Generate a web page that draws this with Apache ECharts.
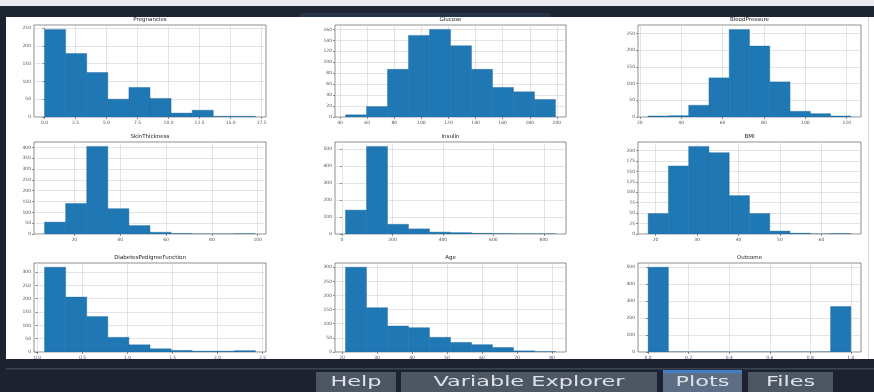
<!DOCTYPE html>
<html>
<head>
<meta charset="utf-8">
<script src="https://cdn.jsdelivr.net/npm/echarts@6/dist/echarts.min.js"></script>
<style>
html,body{margin:0;padding:0;background:#1c2230;}
#chart{width:874px;height:392px;}
</style>
</head>
<body>
<div id="chart"></div>
<script>
// ---- data (histogram counts, 10 bins each) ----
const titles = ['Pregnancies','Glucose','BloodPressure','SkinThickness','Insulin','BMI','DiabetesPedigreeFunction','Age','Outcome'];
const ranges = [[0,17],[44,199],[24,122],[7,99],[14,846],[18.2,67.1],[0.078,2.42],[21,81],[0,1]];
const pregnancies   = [246,178,125,50,83,52,11,19,2,2];
const glucose       = [4,19,87,149,160,130,87,54,46,32];
const bloodPressure = [3,4,35,117,262,212,105,17,10,3];
const skinThickness = [55,141,405,117,39,8,2,0,0,1];
const insulin       = [140,514,57,30,11,8,4,2,1,1];
const bmi           = [49,163,210,195,92,49,7,2,0,1];
const dpf           = [318,206,133,55,27,12,6,3,3,5];
const age           = [300,157,92,86,52,34,26,16,4,1];
const outcome       = [500,0,0,0,0,0,0,0,0,268];
const counts = [pregnancies,glucose,bloodPressure,skinThickness,insulin,bmi,dpf,age,outcome];

const xTicks = [
  [0,2.5,5,7.5,10,12.5,15,17.5],
  [40,60,80,100,120,140,160,180,200],
  [20,40,60,80,100,120],
  [20,40,60,80,100],
  [0,200,400,600,800],
  [20,30,40,50,60],
  [0,0.5,1,1.5,2,2.5],
  [20,30,40,50,60,70,80],
  [0,0.2,0.4,0.6,0.8,1]
];
const xDecimals = [1,0,0,0,0,0,1,0,1];
const yTicks = [
  [0,50,100,150,200,250],
  [0,20,40,60,80,100,120,140,160],
  [0,50,100,150,200,250],
  [0,50,100,150,200,250,300,350,400],
  [0,100,200,300,400,500],
  [0,25,50,75,100,125,150,175,200],
  [0,50,100,150,200,250,300],
  [0,50,100,150,200,250,300],
  [0,100,200,300,400,500]
];

// ---- layout ----
const rows = [[25,117],[142,234],[263,352]];
const cols = [[34,266],[335,566],[638,861]];
const W = 874, H = 392;

const grids = [], xAxes = [], yAxes = [], series = [];
const graphics = [];

// frame / window chrome
graphics.push({type:'rect', shape:{x:0,y:0,width:W,height:6}, style:{fill:'#e9ebee'}, z:-10});
graphics.push({type:'rect', shape:{x:0,y:6,width:W,height:12}, style:{fill:'#1e2532'}, z:-10});
graphics.push({type:'rect', shape:{x:300,y:13,width:250,height:4}, style:{fill:'#26344a'}, z:-10});
graphics.push({type:'rect', shape:{x:6,y:17,width:W-6,height:342}, style:{fill:'#ffffff'}, z:-10});
graphics.push({type:'rect', shape:{x:868,y:17,width:1,height:342}, style:{fill:'#d4d6da'}, z:-9});
graphics.push({type:'rect', shape:{x:0,y:359,width:W,height:33}, style:{fill:'#1c2230'}, z:-10});
graphics.push({type:'rect', shape:{x:6,y:368,width:W-6,height:1.5}, style:{fill:'#3b4352'}, z:-9});

// tabs
const tabs = [
  {t:'Help', x0:316, x1:396, sel:false},
  {t:'Variable Explorer', x0:401, x1:657, sel:false},
  {t:'Plots', x0:663, x1:742, sel:true},
  {t:'Files', x0:748, x1:833, sel:false}
];
tabs.forEach(function(tb){
  graphics.push({type:'rect', shape:{x:tb.x0,y:372,width:tb.x1-tb.x0,height:20},
    style:{fill: tb.sel ? '#5d6e84' : '#4d5663'}, z:-8});
  if (tb.sel) graphics.push({type:'rect', shape:{x:tb.x0,y:370,width:tb.x1-tb.x0,height:3}, style:{fill:'#3f7fc2'}, z:-7});
  graphics.push({type:'text', x:(tb.x0+tb.x1)/2, y:382, scaleX:1.6,
    style:{text:tb.t, fill:'#dde2ea', font:'14px "DejaVu Sans"', textAlign:'center', textVerticalAlign:'middle'}, z:-6});
});

for (let i = 0; i < 9; i++) {
  const r = rows[Math.floor(i/3)], c = cols[i%3];
  grids.push({left:c[0], top:r[0], width:c[1]-c[0], height:r[1]-r[0], containLabel:false,
    show:true, borderColor:'#444', borderWidth:0.6, backgroundColor:'#ffffff'});
  const lo = ranges[i][0], hi = ranges[i][1], m = (hi-lo)*0.05;
  const dec = xDecimals[i];
  xAxes.push({type:'value', gridIndex:i, min:lo-m, max:hi+m,
    axisLine:{show:false},
    axisTick:{show:true, length:2, customValues:xTicks[i], lineStyle:{color:'#444', width:0.6}},
    axisLabel:{customValues:xTicks[i], fontSize:4.5, color:'#555', margin:3, fontFamily:'DejaVu Sans',
      formatter:function(v){return Number(v).toFixed(dec);}},
    splitLine:{show:true, lineStyle:{color:'#d2d2d2', width:0.6}}
  });
  const ymax = Math.max.apply(null, counts[i]) * 1.05;
  yAxes.push({type:'value', gridIndex:i, min:0, max:ymax,
    axisLine:{show:false},
    axisTick:{show:true, length:2, customValues:yTicks[i], lineStyle:{color:'#444', width:0.6}},
    axisLabel:{customValues:yTicks[i], fontSize:4.5, color:'#555', margin:3, fontFamily:'DejaVu Sans'},
    splitLine:{show:true, lineStyle:{color:'#d2d2d2', width:0.6}}
  });
  const step = (hi-lo)/10;
  const data = counts[i].map(function(cnt, k){ return [lo + k*step, lo + (k+1)*step, cnt]; });
  series.push({type:'custom', xAxisIndex:i, yAxisIndex:i, data:data,
    encode:{x:[0,1], y:2}, clip:true,
    renderItem:function(params, api){
      const p0 = api.coord([api.value(0), api.value(2)]);
      const p1 = api.coord([api.value(1), 0]);
      return {type:'rect', shape:{x:p0[0], y:p0[1], width:p1[0]-p0[0], height:p1[1]-p0[1]},
        style:{fill:'#1f77b4', stroke:'#1b68a0', lineWidth:0.4}};
    }
  });
  graphics.push({type:'text', x:(c[0]+c[1])/2, y:r[0]-2,
    style:{text:titles[i], fill:'#222', font:'5.5px "DejaVu Sans"', textAlign:'center', textVerticalAlign:'bottom'}});
}

const chart = echarts.init(document.getElementById('chart'), null, {renderer:'canvas', width:W, height:H});
chart.setOption({
  backgroundColor:'#1c2230',
  animation:false,
  grid:grids, xAxis:xAxes, yAxis:yAxes, series:series,
  graphic:{elements:graphics}
});
</script>
</body>
</html>
